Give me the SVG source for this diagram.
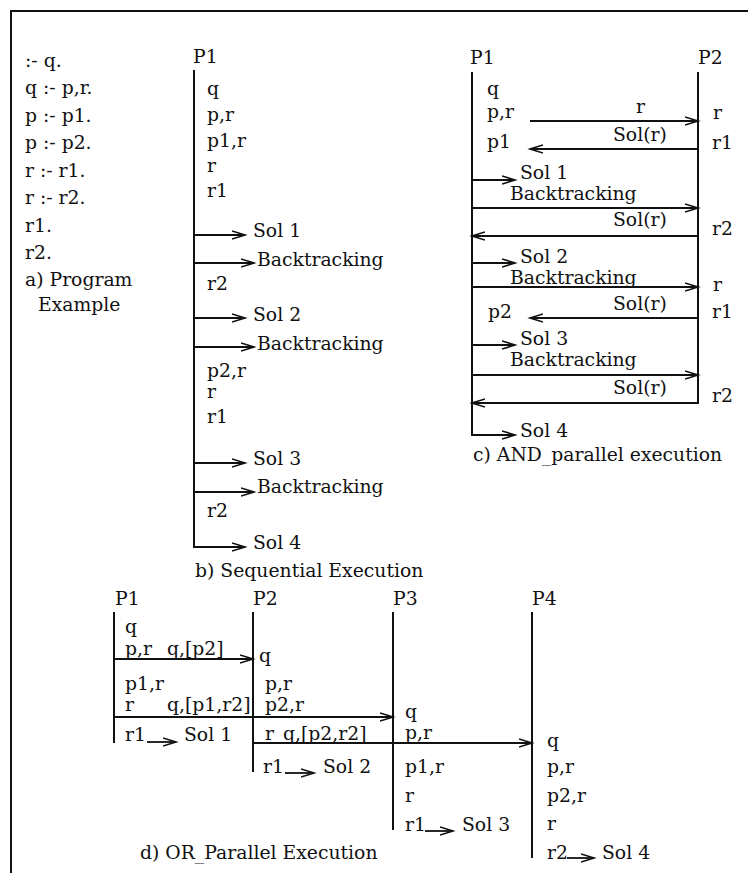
<svg xmlns="http://www.w3.org/2000/svg" width="748" height="873" viewBox="0 0 748 873">
<style>
text{font-family:"DejaVu Serif","Liberation Serif",serif;font-size:18.8px;fill:#111}
.ln{stroke:#111;stroke-width:2;fill:none}
.ar{stroke:#111;stroke-width:1.8;fill:none;marker-end:url(#ah)}
</style>
<defs>
<marker id="ah" markerWidth="16" markerHeight="12" refX="13" refY="6" orient="auto" markerUnits="userSpaceOnUse">
<path d="M0,2 L13,6 L0,10" fill="none" stroke="#111" stroke-width="1.6"/>
</marker>
</defs>
<rect width="748" height="873" fill="#fff"/>
<g id="frame"><path class="ln" d="M11,873 V11 H748" stroke-width="1.5"/></g>

<g id="program">
<text x="25" y="67">:- q.</text>
<text x="25" y="94">q :- p,r.</text>
<text x="25" y="122">p :- p1.</text>
<text x="25" y="149">p :- p2.</text>
<text x="25" y="177">r :- r1.</text>
<text x="25" y="204">r :- r2.</text>
<text x="25" y="232">r1.</text>
<text x="25" y="259">r2.</text>
<text x="25" y="286">a) Program</text>
<text x="38" y="311">Example</text>
</g>

<g id="seq-P1">
<text x="193" y="63">P1</text>
<line class="ln" x1="194" y1="70" x2="194" y2="547"/>
<text x="207" y="95">q</text>
<text x="207" y="121">p,r</text>
<text x="207" y="147">p1,r</text>
<text x="207" y="172">r</text>
<text x="207" y="197">r1</text>
<text x="253" y="237">Sol 1</text>
<text x="257" y="266">Backtracking</text>
<text x="207" y="290">r2</text>
<text x="253" y="321">Sol 2</text>
<text x="257" y="350">Backtracking</text>
<text x="207" y="377">p2,r</text>
<text x="207" y="398">r</text>
<text x="207" y="423">r1</text>
<text x="253" y="465">Sol 3</text>
<text x="257" y="493">Backtracking</text>
<text x="207" y="517">r2</text>
<text x="253" y="549">Sol 4</text>
<text x="195" y="577">b) Sequential Execution</text>
</g>

<g id="and-P1">
<text x="470" y="64">P1</text>
<line class="ln" x1="472" y1="72" x2="472" y2="435"/>
<text x="487" y="95">q</text>
<text x="487" y="118">p,r</text>
<text x="487" y="148">p1</text>
<text x="520" y="179">Sol 1</text>
<text x="510" y="200">Backtracking</text>
<text x="520" y="263">Sol 2</text>
<text x="510" y="284">Backtracking</text>
<text x="488" y="318">p2</text>
<text x="520" y="345">Sol 3</text>
<text x="510" y="366">Backtracking</text>
<text x="520" y="437">Sol 4</text>
<text x="473" y="461">c) AND_parallel execution</text>
</g>
<g id="and-P2">
<text x="698" y="64">P2</text>
<line class="ln" x1="698" y1="72" x2="698" y2="403"/>
<text x="713" y="119">r</text>
<text x="712" y="149">r1</text>
<text x="712" y="235">r2</text>
<text x="713" y="291">r</text>
<text x="712" y="318">r1</text>
<text x="712" y="402">r2</text>
<text x="636" y="113">r</text>
<text x="613" y="141">Sol(r)</text>
<text x="613" y="226">Sol(r)</text>
<text x="613" y="310">Sol(r)</text>
<text x="613" y="394">Sol(r)</text>
</g>

<g id="or-P1">
<text x="115" y="605">P1</text>
<line class="ln" x1="114" y1="612" x2="114" y2="743"/>
<text x="125" y="633">q</text>
<text x="125" y="655">p,r</text>
<text x="167" y="655">q,[p2]</text>
<text x="125" y="690">p1,r</text>
<text x="125" y="711">r</text>
<text x="167" y="711">q,[p1,r2]</text>
<text x="125" y="741">r1</text>
<text x="184" y="741">Sol 1</text>
</g>
<g id="or-P2">
<text x="253" y="605">P2</text>
<line class="ln" x1="253" y1="612" x2="253" y2="772"/>
<text x="259" y="662">q</text>
<text x="265" y="690">p,r</text>
<text x="265" y="711">p2,r</text>
<text x="265" y="740">r</text>
<text x="283" y="740">q,[p2,r2]</text>
<text x="263" y="773">r1</text>
<text x="323" y="773">Sol 2</text>
</g>
<g id="or-P3">
<text x="393" y="605">P3</text>
<line class="ln" x1="393" y1="612" x2="393" y2="830"/>
<text x="405" y="718">q</text>
<text x="405" y="739">p,r</text>
<text x="405" y="773">p1,r</text>
<text x="405" y="802">r</text>
<text x="405" y="831">r1</text>
<text x="462" y="831">Sol 3</text>
</g>
<g id="or-P4">
<text x="532" y="605">P4</text>
<line class="ln" x1="532" y1="612" x2="532" y2="858"/>
<text x="547" y="747">q</text>
<text x="547" y="773">p,r</text>
<text x="547" y="802">p2,r</text>
<text x="547" y="830">r</text>
<text x="547" y="859">r2</text>
<text x="602" y="859">Sol 4</text>
</g>
<text x="140" y="859">d) OR_Parallel Execution</text>

<g id="connectors">
<line class="ar" x1="194" y1="235" x2="245" y2="235"/>
<line class="ar" x1="194" y1="263" x2="254" y2="263"/>
<line class="ar" x1="194" y1="318" x2="245" y2="318"/>
<line class="ar" x1="194" y1="347" x2="254" y2="347"/>
<line class="ar" x1="194" y1="463" x2="245" y2="463"/>
<line class="ar" x1="194" y1="492" x2="254" y2="492"/>
<line class="ar" x1="193" y1="547" x2="245" y2="547"/>

<line class="ar" x1="530" y1="121" x2="698" y2="121"/>
<line class="ar" x1="698" y1="149" x2="530" y2="149"/>
<line class="ar" x1="472" y1="180" x2="515" y2="180"/>
<line class="ar" x1="472" y1="208" x2="698" y2="208"/>
<line class="ar" x1="699" y1="236" x2="472" y2="236"/>
<line class="ar" x1="472" y1="263" x2="515" y2="263"/>
<line class="ar" x1="472" y1="287" x2="698" y2="287"/>
<line class="ar" x1="698" y1="318" x2="530" y2="318"/>
<line class="ar" x1="472" y1="345" x2="515" y2="345"/>
<line class="ar" x1="472" y1="375" x2="698" y2="375"/>
<line class="ar" x1="699" y1="403" x2="472" y2="403"/>
<line class="ar" x1="471" y1="435" x2="515" y2="435"/>

<line class="ar" x1="114" y1="659" x2="253" y2="659"/>
<line class="ar" x1="114" y1="717" x2="393" y2="717"/>
<line class="ar" x1="253" y1="743" x2="532" y2="743"/>
<line class="ar" x1="147" y1="742" x2="176" y2="742"/>
<line class="ar" x1="285" y1="773" x2="314" y2="773"/>
<line class="ar" x1="425" y1="831" x2="453" y2="831"/>
<line class="ar" x1="567" y1="858" x2="594" y2="858"/>
</g>
</svg>
